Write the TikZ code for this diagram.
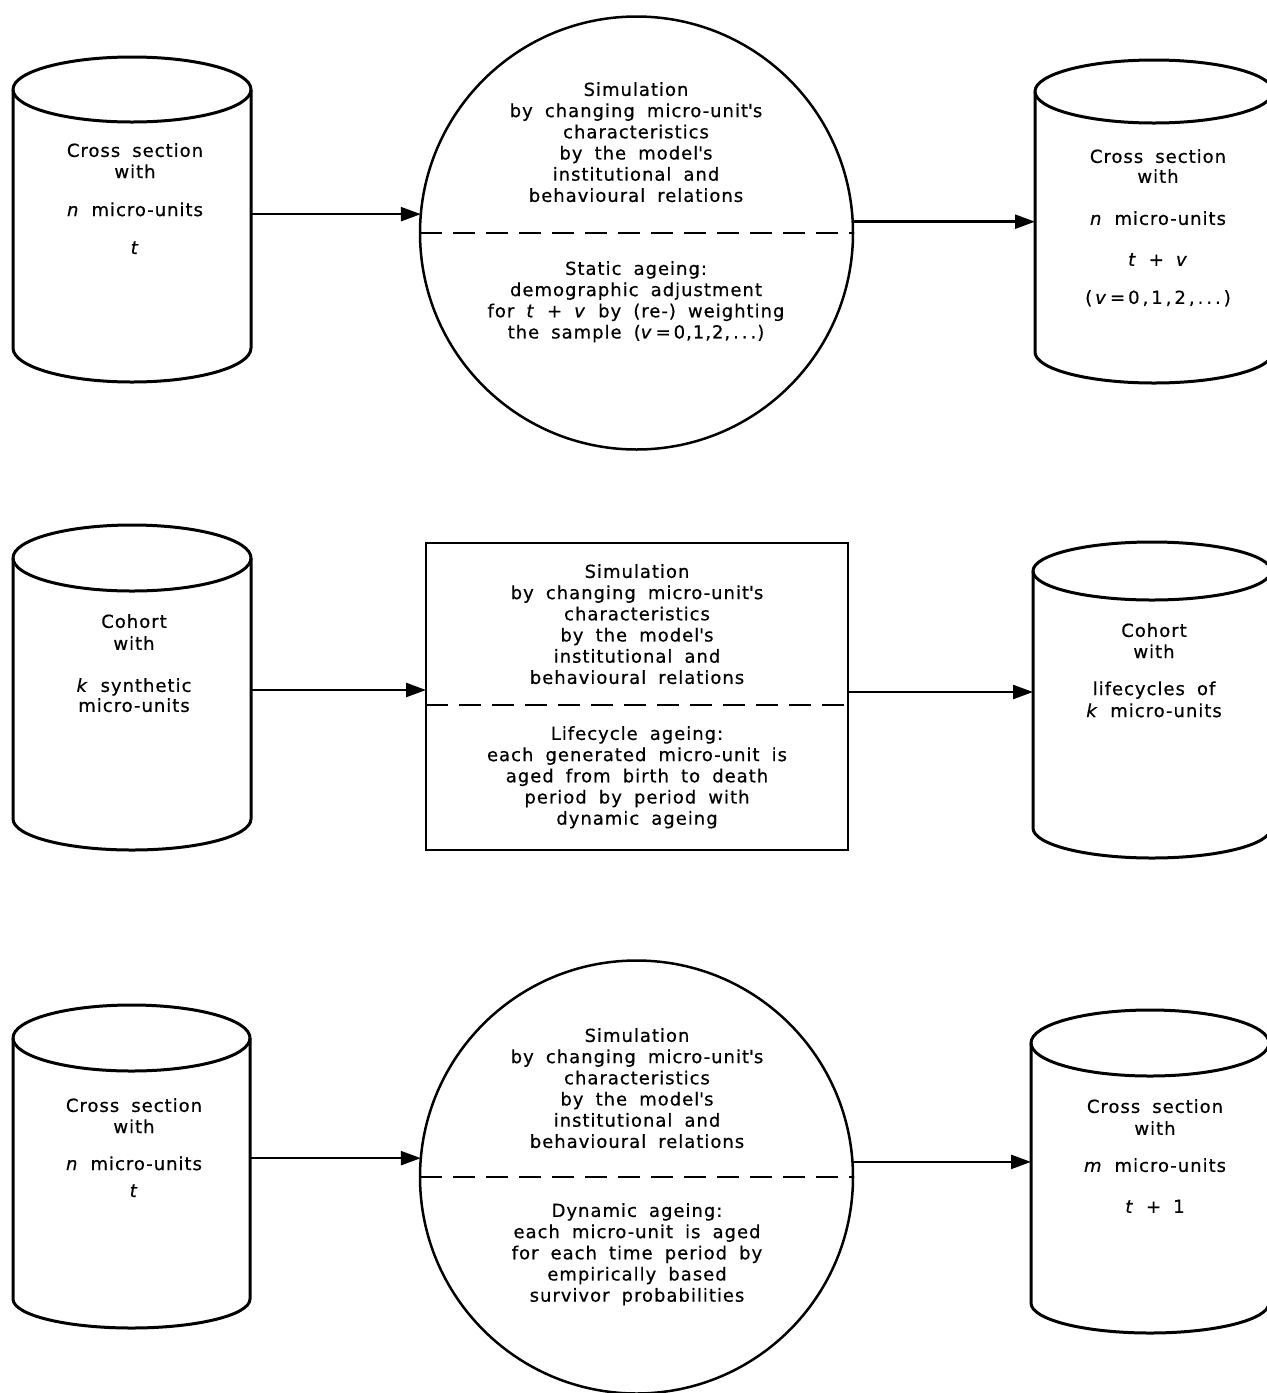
\documentclass[tikz,border=0pt]{standalone}
\usepackage{fontspec}
\setmainfont{DejaVu Sans}[LetterSpace=5.5, WordSpace=1.8, FakeBold=0.6]
\usetikzlibrary{arrows.meta}

% drum outline around an invisible body node: #1 node, #2 x radius, #3 top y radius, #4 bottom y radius
\newcommand\drawdrum[4]{%
  \draw[drum] (#1.north) ellipse[x radius=#2, y radius=#3];
  \draw[drum] (#1.north west) -- (#1.south west)
    arc[start angle=180, end angle=0, x radius=#2, y radius=#4] -- (#1.north east);
}

\begin{document}
\begin{tikzpicture}[x=1pt, y=-1pt,
  drum/.style={line width=3pt, line join=round},
  body/.style={rectangle, draw=none, inner sep=0pt, outer sep=0pt},
  ageing/.style={draw, line width=2.5pt, inner sep=0pt, outer sep=0pt},
  divider/.style={line width=2.8pt, dash pattern=on 22pt off 11pt},
  flow/.style={line width=2.4pt, -{Triangle[length=20pt, width=14pt]}},
  label/.style={anchor=north, align=center, inner sep=0pt,
    font=\fontsize{18}{21.2}\selectfont,
    execute at begin node={\rule{0pt}{14pt}}},
]
\useasboundingbox (0,0) rectangle (1267,1393);

% ---------- static ageing ----------
\node[body, minimum width=238pt, minimum height=258.5pt] (inA) at (132,218.75) {};
\drawdrum{inA}{119}{32.5}{34}
\node[label] (tinA) at (135,143)
  {Cross section\\with\\[16.8pt]\textit{n} micro-units\\[16.8pt]\textit{t}};

\node[ageing, circle, minimum size=433pt] (simA) at (636.5,233) {};
\draw[divider] (simA.west) -- (simA.east);
\node[label] (tsimA) at (636,82)
  {Simulation\\by changing micro-unit\textquotesingle s\\characteristics\\by the model\textquotesingle s\\institutional and\\behavioural relations};
\node[label] (tageA) at (636,261)
  {Static ageing:\\demographic adjustment\\for \textit{t} + \textit{v} by (re-) weighting\\the sample (\textit{v}\,=\,0,1,2,\,.\,.\,.)};

\node[body, minimum width=238pt, minimum height=260.5pt] (outA) at (1154,221.75) {};
\drawdrum{outA}{119}{31.5}{31}
\node[label] (toutA) at (1158,149)
  {Cross section\\[-1.2pt]with\\[20.8pt]\textit{n} micro-units\\[19.8pt]\textit{t} + \textit{v}\\[16.8pt](\,\textit{v}\,=\,0\,,\,1\,,\,2\,,\,.\,.\,.\,)};

\draw[flow] (inA.east |- simA.175.2) -- (simA.175.2);
\draw[flow] (simA.3.2) -- (outA.west |- simA.3.2);

% ---------- lifecycle ageing ----------
\node[body, minimum width=238pt, minimum height=261pt] (inB) at (132,688.5) {};
\drawdrum{inB}{119}{33}{31}
\node[label] (tinB) at (134,614)
  {Cohort\\[0.8pt]with\\[20.8pt]\textit{k} synthetic\\[-1.2pt]micro-units};

\node[ageing, rectangle, minimum width=422pt, minimum height=307pt] (simB) at (637,696.5) {};
\coordinate (cutB) at (0,705);
\draw[divider] (simB.west |- cutB) -- (simB.east |- cutB);
\node[label] (tsimB) at (637,564)
  {Simulation\\by changing micro-unit\textquotesingle s\\characteristics\\by the model\textquotesingle s\\institutional and\\behavioural relations};
\node[label] (tageB) at (637,726)
  {Lifecycle ageing:\\each generated micro-unit is\\aged from birth to death\\period by period with\\dynamic ageing};

\node[body, minimum width=238pt, minimum height=257pt] (outB) at (1152,699.5) {};
\drawdrum{outB}{119}{29}{30}
\node[label] (toutB) at (1154,623)
  {Cohort\\with\\[15.8pt]lifecycles of\\[0.8pt]\textit{k} micro-units};

\coordinate (inflowB) at (0,690);
\coordinate (outflowB) at (0,692);
\draw[flow] (inB.east |- inflowB) -- (simB.west |- inflowB);
\draw[flow] (simB.east |- outflowB) -- (outB.west |- outflowB);

% ---------- dynamic ageing ----------
\node[body, minimum width=237pt, minimum height=261pt] (inC) at (131.5,1168.5) {};
\drawdrum{inC}{118.5}{33}{29}
\node[label] (tinC) at (134,1098)
  {Cross section\\with\\[15.8pt]\textit{n} micro-units\\[5.8pt]\textit{t}};

\node[ageing, circle, minimum size=433pt] (simC) at (636.5,1177) {};
\draw[divider] (simC.west) -- (simC.east);
\node[label] (tsimC) at (637,1028)
  {Simulation\\by changing micro-unit\textquotesingle s\\characteristics\\by the model\textquotesingle s\\institutional and\\behavioural relations};
\node[label] (tageC) at (637,1203)
  {Dynamic ageing:\\each micro-unit is aged\\for each time period by\\empirically based\\survivor probabilities};

\node[body, minimum width=238pt, minimum height=260pt] (outC) at (1150,1173) {};
\drawdrum{outC}{119}{33}{30}
\node[label] (toutC) at (1155,1099)
  {Cross section\\[0.8pt]with\\[15.8pt]\textit{m} micro-units\\[19.8pt]\textit{t} + 1};

\draw[flow] (inC.east |- simC.175.5) -- (simC.175.5);
\draw[flow] (simC.4) -- (outC.west |- simC.4);
\end{tikzpicture}
\end{document}
